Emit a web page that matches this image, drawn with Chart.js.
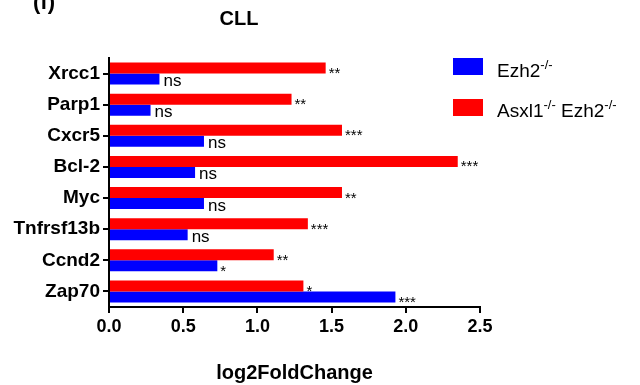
<!doctype html><html lang="en"><head>
<meta charset="UTF-8"><title>CLL</title>
<script src="https://cdn.jsdelivr.net/npm/chart.js@4/dist/chart.umd.min.js"></script>
<style>
 body{margin:0;background:#fff}
 #wrap{width:640px;height:385px;position:relative}
</style></head><body>
<div id="wrap"><canvas id="c"></canvas></div>
<script>
// ----- data -----
const genes   = ['Xrcc1','Parp1','Cxcr5','Bcl-2','Myc','Tnfrsf13b','Ccnd2','Zap70'];
const dkoVals = [1.46, 1.23, 1.57, 2.35, 1.57, 1.34, 1.11, 1.31];   // Asxl1-/- Ezh2-/-
const ezhVals = [0.34, 0.28, 0.64, 0.58, 0.64, 0.53, 0.73, 1.93];   // Ezh2-/-
const dkoSig  = ['**','**','***','***','**','***','**','*'];
const ezhSig  = ['ns','ns','ns','ns','ns','ns','*','***'];
const xTicks  = [0, 0.5, 1.0, 1.5, 2.0, 2.5];

const FONT = 'Arial, "Liberation Sans", sans-serif';
const RED = '#ff0000', BLUE = '#0000ff';

// significance marks next to each bar
const sigPlugin = {
  id:'sig',
  afterDatasetsDraw(chart){
    const ctx = chart.ctx;
    const sigs = [dkoSig, ezhSig];
    ctx.save();
    ctx.fillStyle = '#000';
    ctx.textAlign = 'left';
    ctx.textBaseline = 'alphabetic';
    chart.data.datasets.forEach((ds,i)=>{
      chart.getDatasetMeta(i).data.forEach((bar,j)=>{
        const s = sigs[i][j];
        if(s==='ns'){
          ctx.font = '17px '+FONT;
          ctx.fillText(s, bar.x+4, bar.y+7);
        } else {
          ctx.font = '15px '+FONT;
          ctx.fillText(s, bar.x+3, bar.y+10);
        }
      });
    });
    ctx.restore();
  }
};

// title, panel letter and legend with superscripts
function supText(ctx, parts, x, y){
  parts.forEach(([t,sup])=>{
    ctx.font = (sup?'13px ':'19px ')+FONT;
    ctx.fillText(t, x, sup ? y-8 : y);
    x += ctx.measureText(t).width;
  });
}
const decoPlugin = {
  id:'deco',
  afterDraw(chart){
    const ctx = chart.ctx;
    ctx.save();
    ctx.fillStyle = '#000';
    ctx.textAlign = 'center';
    ctx.textBaseline = 'middle';
    ctx.font = 'bold 20px '+FONT;
    ctx.fillText('CLL', 239, 19);
    ctx.textAlign = 'left';
    ctx.font = 'bold 22px '+FONT;
    ctx.fillText('(f)', 33, 3);

    ctx.fillStyle = BLUE; ctx.fillRect(453, 58, 30, 17);
    ctx.fillStyle = RED;  ctx.fillRect(453, 99, 30, 17);
    ctx.fillStyle = '#000';
    ctx.textBaseline = 'alphabetic';
    supText(ctx, [['Ezh2',0],['-/-',1]], 497, 77);
    supText(ctx, [['Asxl1',0],['-/-',1],[' Ezh2',0],['-/-',1]], 497, 117);
    ctx.restore();
  }
};

new Chart(document.getElementById('c'), {
  type:'bar',
  data:{
    labels: genes,
    datasets:[
      {label:'Asxl1-/- Ezh2-/-', data:dkoVals, backgroundColor:RED},
      {label:'Ezh2-/-', data:ezhVals, backgroundColor:BLUE}
    ]
  },
  options:{
    indexAxis:'y',
    responsive:true, maintainAspectRatio:false, animation:false,
    layout:{padding:{top:58, right:160, bottom:0, left:0}},
    datasets:{bar:{categoryPercentage:0.71, barPercentage:1}},
    plugins:{legend:{display:false}, tooltip:{enabled:false}, title:{display:false}},
    scales:{
      x:{
        min:0, max:2.5,
        afterBuildTicks: s => { s.ticks = xTicks.map(v=>({value:v})); },
        afterFit: s => { s.height = 78; },
        grid:{drawOnChartArea:false, drawTicks:true, tickLength:6, color:'#000', lineWidth:2},
        border:{display:true, color:'#000', width:2},
        ticks:{color:'#000', padding:3, font:{family:FONT, size:18, weight:'bold'},
               callback: v => Number(v).toFixed(1), maxRotation:0},
        title:{display:true, text:'log2FoldChange', color:'#000',
               font:{family:FONT, size:20, weight:'bold'}, padding:{top:0, bottom:0}}
      },
      y:{
        afterFit: s => { s.width = 109; },
        grid:{drawOnChartArea:false, drawTicks:true, tickLength:6, color:'#000', lineWidth:2, offset:false},
        border:{display:true, color:'#000', width:2},
        ticks:{color:'#000', padding:3, font:{family:FONT, size:19, weight:'bold'}}
      }
    }
  },
  plugins:[sigPlugin, decoPlugin]
});
</script>
</body></html>
